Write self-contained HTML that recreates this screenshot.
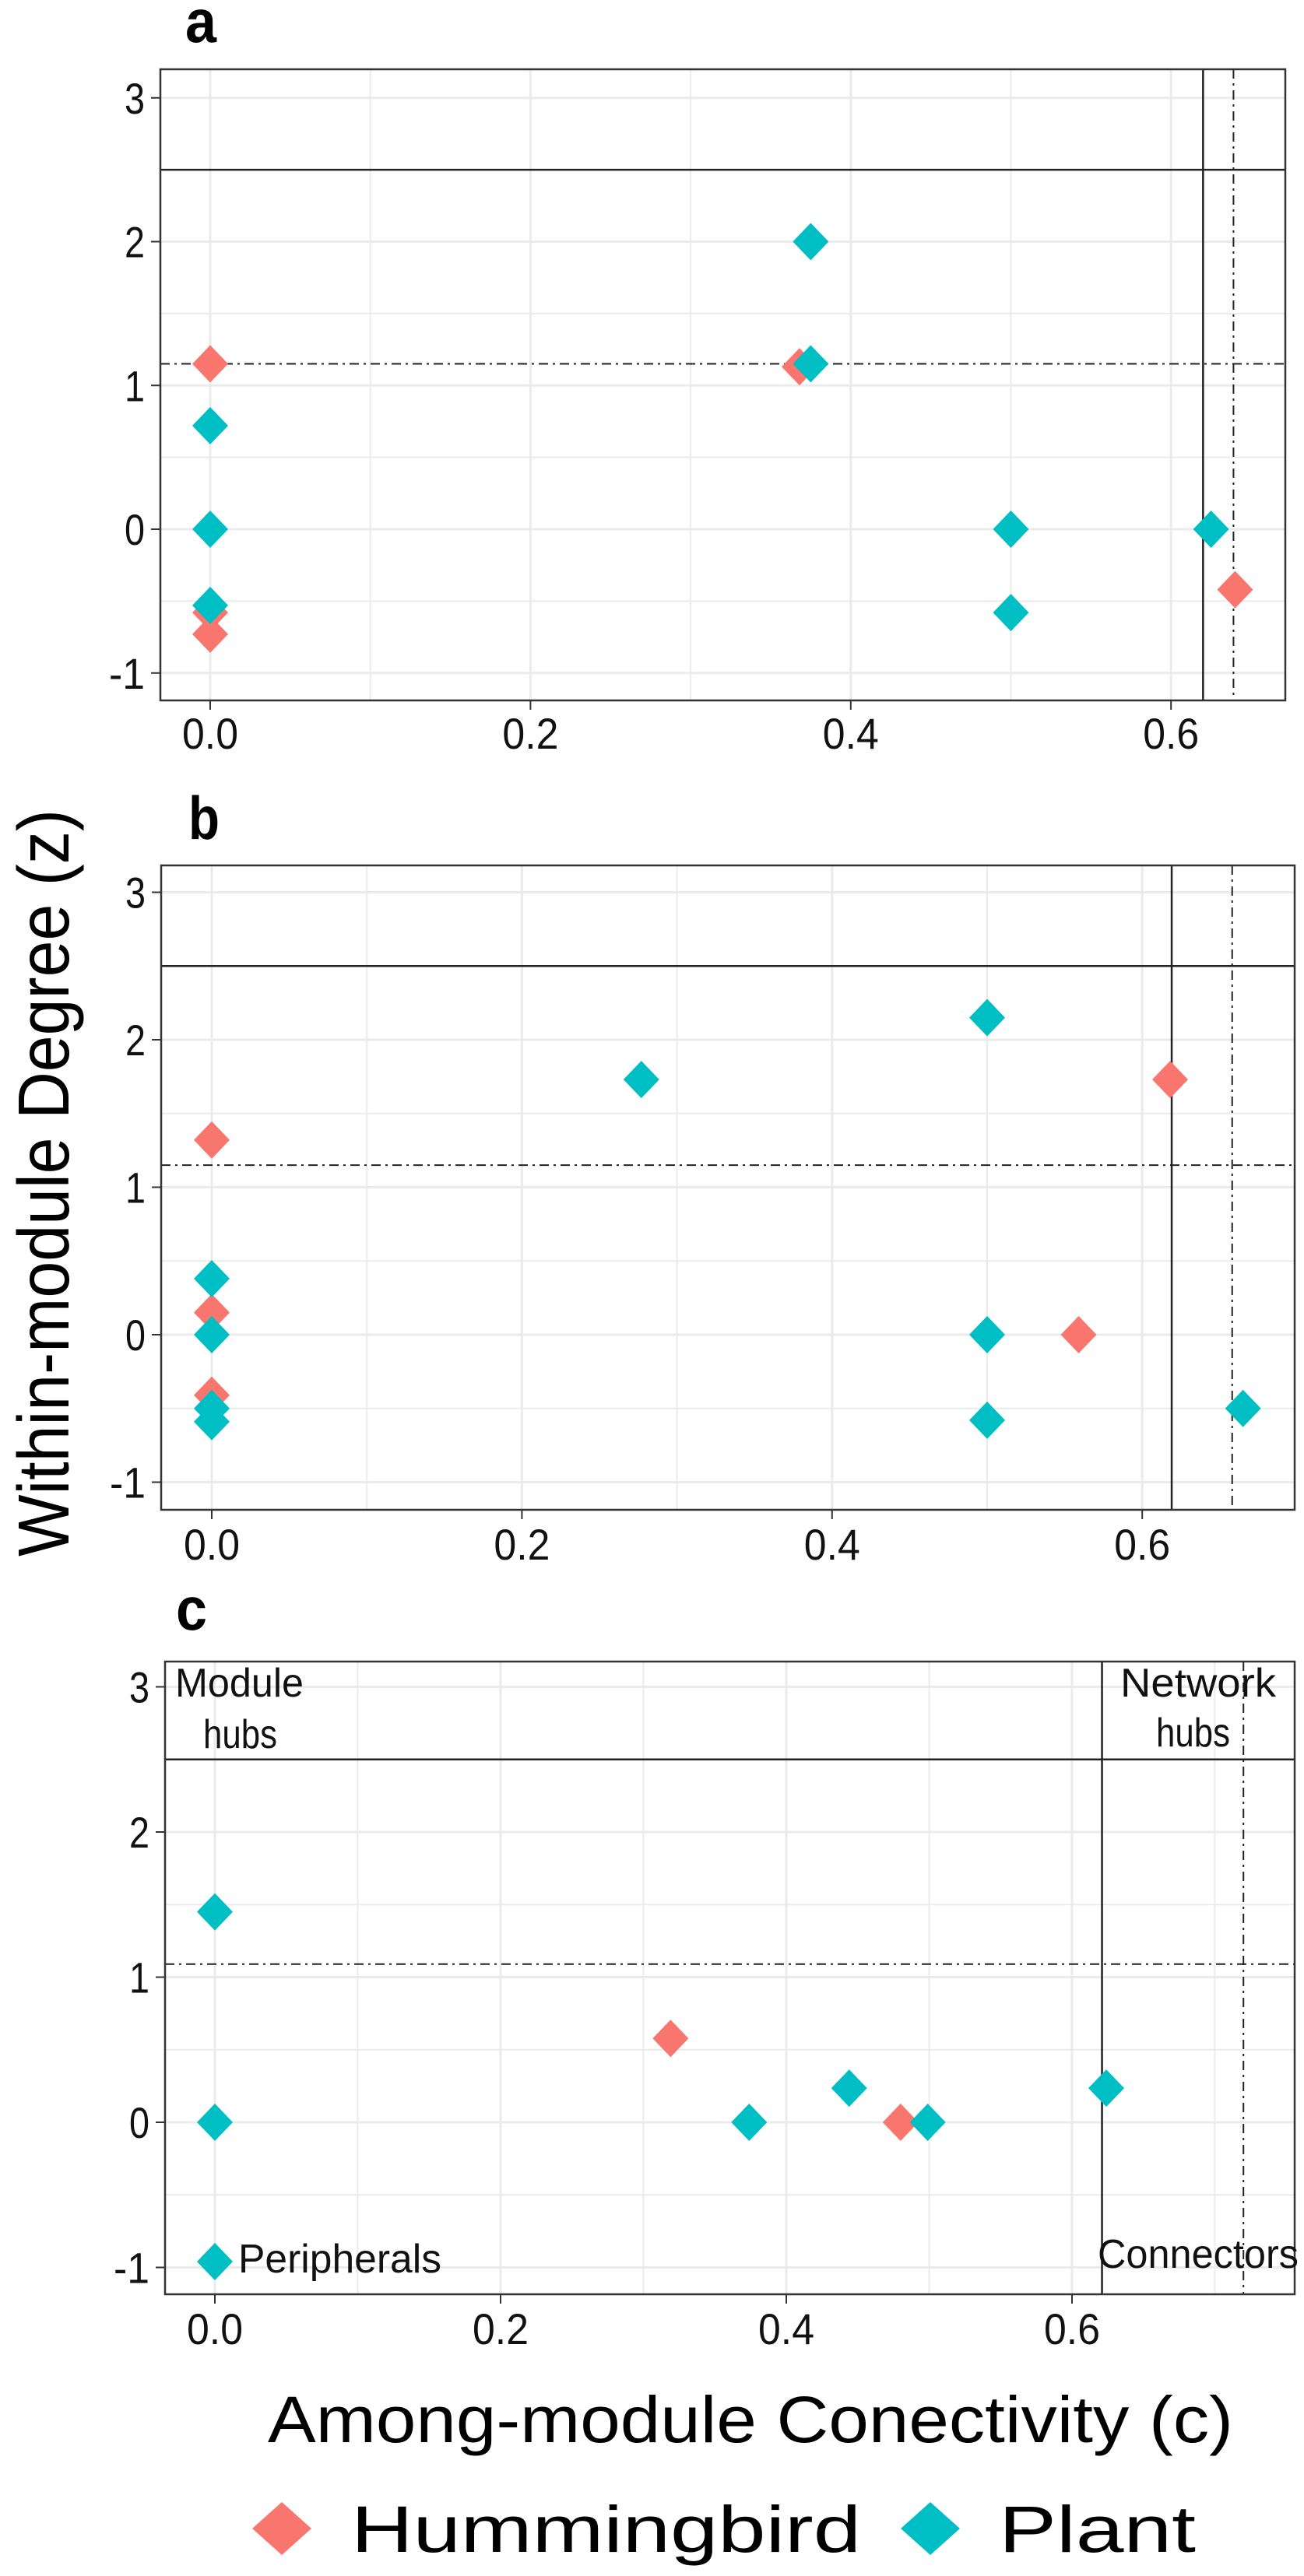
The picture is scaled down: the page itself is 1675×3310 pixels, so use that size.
<!DOCTYPE html>
<html><head><meta charset="utf-8"><style>
html,body{margin:0;padding:0;background:#fff}
svg{display:block}
text{font-family:"Liberation Sans",sans-serif}
</style></head><body>
<svg id="fig" width="1675" height="3310" viewBox="0 0 1675 3310" xmlns="http://www.w3.org/2000/svg">
<text transform="translate(88,1520) rotate(-90)" text-anchor="middle" font-size="93" textLength="960" lengthAdjust="spacingAndGlyphs" fill="#000">Within-module Degree (z)</text>
<text x="964" y="3138" text-anchor="middle" font-size="84" textLength="1240" lengthAdjust="spacingAndGlyphs" fill="#000">Among-module Conectivity (c)</text>
<g>
<polygon points="362,3215 400,3249 362,3283 324,3249" fill="#F8766D"/>
<text x="451" y="3279" font-size="84" textLength="655" lengthAdjust="spacingAndGlyphs">Hummingbird</text>
<polygon points="1195,3215 1233,3249 1195,3283 1157,3249" fill="#00BFC4"/>
<text x="1283" y="3279" font-size="84" textLength="253" lengthAdjust="spacingAndGlyphs">Plant</text>
</g>
</svg>
<script>
// Panel a data
const aHumX=[0,0.368,0,0,0.64];
const aHumY=[1.15,1.13,-0.58,-0.73,-0.42];
const aPlantX=[0.375,0.375,0,0,0,0.5,0.5,0.625];
const aPlantY=[2.0,1.15,0.72,0,-0.53,0,-0.58,0];
// Panel b data
const bHumX=[0,0.618,0,0,0.559];
const bHumY=[1.32,1.73,0.15,-0.41,0];
const bPlantX=[0.277,0.5,0,0,0,0,0.5,0.5,0.665];
const bPlantY=[1.73,2.15,0.38,0,-0.5,-0.59,0,-0.58,-0.5];
// Panel c data
const cHumX=[0.319,0.48];
const cHumY=[0.578,0];
const cPlantX=[0,0,0,0.374,0.444,0.499,0.624];
const cPlantY=[1.45,0,-0.96,0,0.235,0,0.235];
// Axis ticks
const xTicks=[0,0.2,0.4,0.6];
const xTickLabels=["0.0","0.2","0.4","0.6"];
const yTicks=[-1,0,1,2,3];
const yTickLabels=["-1","0","1","2","3"];
// Thresholds
const hubZ=[2.5,2.5,2.5];
const meanZ=[1.15,1.15,1.09];
const connC=[0.62,0.619,0.621];
const meanC=[0.639,0.658,0.72];

const NS="http://www.w3.org/2000/svg";
const svg=document.getElementById('fig');
function mk(tag,attrs,parent){const e=document.createElementNS(NS,tag);for(const k in attrs)e.setAttribute(k,attrs[k]);(parent||svg).appendChild(e);return e;}

const panels=[
 {id:'a',L:206,R:1651,T:89,B:900,x0:270,xs:2057,y0:680,ys:184.75,lab:[238,54],tickY:962,hx:aHumX,hy:aHumY,px:aPlantX,py:aPlantY,i:0},
 {id:'b',L:207,R:1663,T:1112,B:1940,x0:272,xs:1992,y0:1715,ys:189.5,lab:[242,1078],tickY:2004,hx:bHumX,hy:bHumY,px:bPlantX,py:bPlantY,i:1},
 {id:'c',L:212,R:1663,T:2135,B:2948,x0:276,xs:1835,y0:2727,ys:186.5,lab:[226,2094],tickY:3012,hx:cHumX,hy:cHumY,px:cPlantX,py:cPlantY,i:2}
];
panels.forEach(p=>{
  const X=v=>p.x0+v*p.xs, Y=v=>p.y0-v*p.ys;
  const g=mk('g',{});
  
  
  const t=mk('text',{x:p.lab[0],y:p.lab[1],'font-size':78,'font-weight':'bold',textLength:40,lengthAdjust:'spacingAndGlyphs'},g);t.textContent=p.id;
  
  
  for(let v=-1;v<=3.01;v+=0.5){const y=Y(v);if(y<p.T||y>p.B)continue;
    const l=mk('line',{x1:p.L,x2:p.R,y1:y,y2:y,stroke:'#ebebeb','stroke-width':Number.isInteger(v)?3:2},g);
    
    }
  for(let v=0;v<=0.8;v+=0.1){const x=X(v);if(x<p.L||x>p.R)continue;
    const l=mk('line',{x1:x,x2:x,y1:p.T,y2:p.B,stroke:'#ebebeb','stroke-width':(Math.round(v*10)%2===0)?3:2},g);
    
    }
  yTicks.forEach((v,k)=>{const y=Y(v);
    mk('line',{x1:p.L-12,x2:p.L,y1:y,y2:y,stroke:'#333','stroke-width':2},g);
    const s=yTickLabels[k];
    const tt=mk('text',{x:p.L-20,y:y+20,'text-anchor':'end','font-size':56,fill:'#111',textLength:s.length>1?46:26,lengthAdjust:'spacingAndGlyphs'},g);tt.textContent=s;
    
    });
  xTicks.forEach((v,k)=>{const x=X(v);
    mk('line',{x1:x,x2:x,y1:p.B,y2:p.B+12,stroke:'#333','stroke-width':2},g);
    const tt=mk('text',{x:x,y:p.tickY,'text-anchor':'middle','font-size':56,fill:'#111',textLength:72,lengthAdjust:'spacingAndGlyphs'},g);tt.textContent=xTickLabels[k];
    
    });
  const h=mk('line',{x1:p.L,x2:p.R,y1:Y(hubZ[p.i]),y2:Y(hubZ[p.i]),stroke:'#222','stroke-width':2.5},g);
  
  
  const v=mk('line',{x1:X(connC[p.i]),x2:X(connC[p.i]),y1:p.T,y2:p.B,stroke:'#222','stroke-width':2.5},g);
  
  
  const dh=mk('line',{x1:p.L,x2:p.R,y1:Y(meanZ[p.i]),y2:Y(meanZ[p.i]),stroke:'#222','stroke-width':2,'stroke-dasharray':'12,6,3,6'},g);
  
  
  const dv=mk('line',{x1:X(meanC[p.i]),x2:X(meanC[p.i]),y1:p.T,y2:p.B,stroke:'#222','stroke-width':2,'stroke-dasharray':'12,6,3,6'},g);
  
  
  const dia=(xv,yv,col,name)=>{const cx=X(xv),cy=Y(yv);
    const d=mk('polygon',{points:`${cx},${cy-24} ${cx+23},${cy} ${cx},${cy+24} ${cx-23},${cy}`,fill:col},g);
    
    };
  p.hx.forEach((xv,k)=>dia(xv,p.hy[k],'#F8766D','hummingbird-point'));
  p.px.forEach((xv,k)=>dia(xv,p.py[k],'#00BFC4','plant-point'));
  const b=mk('rect',{x:p.L,y:p.T,width:p.R-p.L,height:p.B-p.T,fill:'none',stroke:'#333','stroke-width':2.5},g);
  
  
  if(p.id==='c'){
    const ann=[["Module",225,2180,165],["hubs",261,2246,95],["Network",1439,2180,200],["hubs",1485,2244,95],["Peripherals",306,2920,261],["Connectors",1410,2914,258]];
    ann.forEach(a=>{const tx=mk('text',{x:a[1],y:a[2],'font-size':52,fill:'#111',textLength:a[3],lengthAdjust:'spacingAndGlyphs'},g);tx.textContent=a[0];
      
      });
  }
});
</script>
</body></html>
